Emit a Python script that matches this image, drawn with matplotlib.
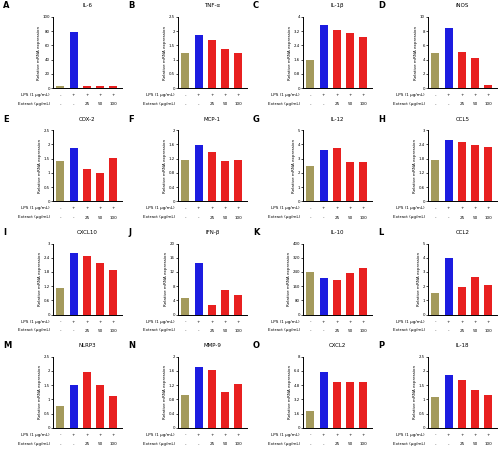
import numpy as np
import matplotlib
matplotlib.use('Agg')
from matplotlib import pyplot as plt

# panel letters and gene titles
letters = ['A', 'B', 'C', 'D', 'E', 'F', 'G', 'H',
           'I', 'J', 'K', 'L', 'M', 'N', 'O', 'P']
titles = ['IL-6', 'TNF-α', 'IL-1β', 'iNOS', 'COX-2', 'MCP-1', 'IL-12', 'CCL5',
          'CXCL10', 'IFN-β', 'IL-10', 'CCL2', 'NLRP3', 'MMP-9', 'CXCL2', 'IL-18']

# y axis top per panel
ymax = [100, 2.5, 4, 10, 2.5, 2, 5, 3,
        3, 20, 400, 5, 2.5, 2, 8, 2.5]

# bar heights: LPS-, LPS+, LPS + 25 / 50 / 100 ug/mL
vals = [
    [3, 79, 3, 3, 3],
    [1.22, 1.88, 1.70, 1.38, 1.22],
    [1.56, 3.56, 3.28, 3.08, 2.88],
    [4.9, 8.5, 5.1, 4.2, 0.4],
    [1.40, 1.88, 1.15, 0.98, 1.52],
    [1.16, 1.58, 1.40, 1.12, 1.16],
    [2.5, 3.6, 3.75, 2.75, 2.75],
    [1.74, 2.58, 2.49, 2.37, 2.28],
    [1.11, 2.58, 2.46, 2.16, 1.89],
    [4.6, 14.6, 2.8, 6.8, 5.4],
    [240, 204, 192, 232, 260],
    [1.50, 3.95, 1.95, 2.65, 2.10],
    [0.78, 1.52, 1.95, 1.52, 1.12],
    [0.92, 1.70, 1.64, 1.02, 1.22],
    [1.9, 6.3, 5.2, 5.2, 5.2],
    [1.10, 1.85, 1.68, 1.32, 1.15],
]

row1 = ['-', '+', '+', '+', '+']
row2 = ['-', '-', '25', '50', '100']
bar_colors = ['#a49a5c', '#1c1ce0', '#e82020', '#e82020', '#e82020']

W, H = 500, 453
fig = plt.figure(figsize=(5.0, 4.53), dpi=100)
fig.patch.set_facecolor('white')

pw, ph = 125, 113.25
for k in range(16):
    r, c = k // 4, k % 4
    x0 = c * pw
    y0 = r * ph
    ax = fig.add_axes([(x0 + 53) / W, 1 - (y0 + 88) / H, 69 / W, 71 / H])
    x = np.arange(5)
    ax.bar(x, vals[k], width=0.6, color=bar_colors, edgecolor='none')
    ax.set_xlim(-0.55, 4.65)
    ax.set_ylim(0, ymax[k])
    ticks = np.linspace(0, ymax[k], 6)
    ax.set_yticks(ticks)
    ax.set_yticklabels(['%g' % t for t in ticks], fontsize=2.8)
    ax.tick_params(axis='y', length=1.5, width=0.5, pad=0.8)
    ax.set_xticks([])
    ax.set_ylabel('Relative mRNA expression', fontsize=3, labelpad=1)
    for s in ['top', 'right']:
        ax.spines[s].set_visible(False)
    ax.spines['left'].set_linewidth(0.7)
    ax.spines['bottom'].set_linewidth(0.7)
    ax.set_title(titles[k], fontsize=4, pad=7)

    # treatment table below the bars
    for i in range(5):
        ax.text(i, -0.1, row1[i], transform=ax.get_xaxis_transform(),
                ha='center', va='center', fontsize=3)
        ax.text(i, -0.23, row2[i], transform=ax.get_xaxis_transform(),
                ha='center', va='center', fontsize=3)
    fig.text((x0 + 50) / W, 1 - (y0 + 95) / H, 'LPS (1 μg/mL)',
             ha='right', va='center', fontsize=3)
    fig.text((x0 + 50) / W, 1 - (y0 + 104) / H, 'Extract (μg/mL)',
             ha='right', va='center', fontsize=3)

    fig.text((x0 + 3) / W, 1 - (y0 + 6) / H, letters[k],
             ha='left', va='center', fontsize=6, fontweight='bold')

fig.savefig('out.png', dpi=100)
